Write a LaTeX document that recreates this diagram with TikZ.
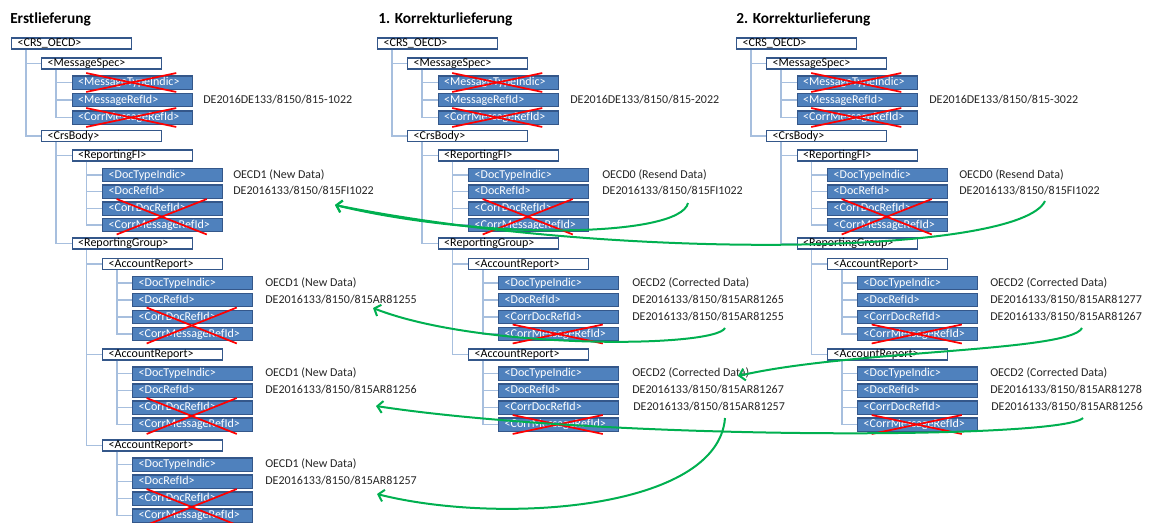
\documentclass[tikz,border=0pt]{standalone}
\usepackage{fontspec}
\setmainfont{Carlito}
\usetikzlibrary{arrows.meta}

\definecolor{boxline}{HTML}{34578A}
\definecolor{boxfill}{HTML}{4F81BD}
\definecolor{treeline}{HTML}{A7BFDE}
\definecolor{corrgreen}{HTML}{00B050}
\definecolor{labeltext}{HTML}{262626}

\tikzset{
  elem/.style={anchor=west, draw=boxline, line width=1.1pt, minimum width=90pt,
    text width=81pt, inner xsep=4.5pt, text height=6.3pt, text depth=1.8pt, align=left,
    font=\fontsize{9pt}{10pt}\selectfont},
  wbox/.style={elem, fill=white, text=black, inner ysep=0.2pt},
  bbox/.style={elem, fill=boxfill, text=white, inner ysep=1.0pt},
  lbl/.style={anchor=west, inner sep=0pt, text=labeltext, text height=6.3pt, text depth=1.8pt,
    font=\fontsize{9pt}{10pt}\selectfont},
  heading/.style={anchor=west, inner sep=0pt, text=black, font=\bfseries\fontsize{11.5pt}{13pt}\selectfont},
  tree/.style={draw=treeline, line width=0.8pt},
  cross/.style={draw=red, line width=1.3pt},
  corr/.style={draw=corrgreen, line width=1.5pt, -{Straight Barb[length=4pt,width=9pt]}},
}

% red X over one box or over a stack of boxes from #1 (top) to #2 (bottom)
\newcommand{\xout}[2]{%
  \draw[cross] ([shift={(11pt,1.5pt)}]#1.north west) -- ([shift={(-12.5pt,-1.5pt)}]#2.south east);
  \draw[cross] ([shift={(11pt,-1.5pt)}]#2.south west) -- ([shift={(-12.5pt,1.5pt)}]#1.north east);
}

% child link from a parent box to a child box
\newcommand{\link}[2]{\draw[tree] ([xshift=11.25pt]#1.south west) |- (#2.west);}

% upper part of one CRS message: header, MessageSpec, ReportingFI, ReportingGroup
\newcommand{\xmlhead}[2]{%
  \node[wbox] (#1root) at (#2,43.5) {<CRS\_OECD>};
  \node[wbox] (#1ms) at ({#2+30},63.5) {<MessageSpec>};
  \node[bbox] (#1mti) at ({#2+60.5},82.5) {<MessageTypeIndic>};
  \node[bbox] (#1mri) at ({#2+60.5},100) {<MessageRefId>};
  \node[bbox] (#1cmri) at ({#2+60.5},117.5) {<CorrMessageRefId>};
  \node[wbox] (#1body) at ({#2+30},136) {<CrsBody>};
  \node[wbox] (#1fi) at ({#2+60.5},155.5) {<ReportingFI>};
  \node[bbox] (#1fidt) at ({#2+91},175) {<DocTypeIndic>};
  \node[bbox] (#1fidr) at ({#2+91},191.5) {<DocRefId>};
  \node[bbox] (#1ficd) at ({#2+91},208.5) {<CorrDocRefId>};
  \node[bbox] (#1ficm) at ({#2+91},225) {<CorrMessageRefId>};
  \node[wbox] (#1rg) at ({#2+60.5},243.5) {<ReportingGroup>};
  \link{#1root}{#1ms}\link{#1root}{#1body}
  \link{#1ms}{#1mti}\link{#1ms}{#1mri}\link{#1ms}{#1cmri}
  \link{#1body}{#1fi}\link{#1body}{#1rg}
  \link{#1fi}{#1fidt}\link{#1fi}{#1fidr}\link{#1fi}{#1ficd}\link{#1fi}{#1ficm}
  \xout{#1mti}{#1mti}
  \xout{#1cmri}{#1cmri}
  \xout{#1ficd}{#1ficm}
}

% one AccountReport with its DocSpec elements
\newcommand{\acct}[4]{%
  \node[wbox] (#1) at ({#2+91},#3) {<AccountReport>};
  \node[bbox] (#1dt) at ({#2+121},{#3+19}) {<DocTypeIndic>};
  \node[bbox] (#1dr) at ({#2+121},{#3+36}) {<DocRefId>};
  \node[bbox] (#1cd) at ({#2+121},{#3+53}) {<CorrDocRefId>};
  \node[bbox] (#1cm) at ({#2+121},{#3+70}) {<CorrMessageRefId>};
  \link{#4}{#1}
  \link{#1}{#1dt}\link{#1}{#1dr}\link{#1}{#1cd}\link{#1}{#1cm}
}

\begin{document}
\begin{tikzpicture}[x=0.75pt,y=-0.75pt]
\useasboundingbox[fill=white] (0,0) rectangle (1149,522);

% ---------------- Erstlieferung ----------------
\node[heading] (ttlA) at (10,19) {Erstlieferung};
\xmlhead{a}{11}
\acct{aar1}{11}{264}{arg}
\acct{aar2}{11}{354.5}{arg}
\acct{aar3}{11}{445.5}{arg}
\xout{aar1cd}{aar1cm}
\xout{aar2cd}{aar2cm}
\xout{aar3cd}{aar3cm}
\node[lbl] (aMsgId) at (203,100) {DE2016DE133/8150/815-1022};
\node[lbl] (aFIType) at (233,175) {OECD1 (New Data)};
\node[lbl] (aFIRef) at (233,191.5) {DE2016133/8150/815FI1022};
\node[lbl] (aR1Type) at (265,283) {OECD1 (New Data)};
\node[lbl] (aR1Ref) at (265,300) {DE2016133/8150/815AR81255};
\node[lbl] (aR2Type) at (265,373.5) {OECD1 (New Data)};
\node[lbl] (aR2Ref) at (265,390.5) {DE2016133/8150/815AR81256};
\node[lbl] (aR3Type) at (265,464.5) {OECD1 (New Data)};
\node[lbl] (aR3Ref) at (265,481.5) {DE2016133/8150/815AR81257};

% ---------------- 1. Korrekturlieferung ----------------
\node[heading] (ttlB) at (378,19) {1. Korrekturlieferung};
\xmlhead{b}{377}
\acct{bar1}{377}{264}{brg}
\acct{bar2}{377}{354.5}{brg}
\xout{bar1cm}{bar1cm}
\xout{bar2cm}{bar2cm}
\node[lbl] (bMsgId) at (570,100) {DE2016DE133/8150/815-2022};
\node[lbl] (bFIType) at (602,175) {OECD0 (Resend Data)};
\node[lbl] (bFIRef) at (602,191.5) {DE2016133/8150/815FI1022};
\node[lbl] (bR1Type) at (632,283) {OECD2 (Corrected Data)};
\node[lbl] (bR1Ref) at (632,300) {DE2016133/8150/815AR81265};
\node[lbl] (bR1Corr) at (632,317) {DE2016133/8150/815AR81255};
\node[lbl] (bR2Type) at (632,373.5) {OECD2 (Corrected Data)};
\node[lbl] (bR2Ref) at (632,390.5) {DE2016133/8150/815AR81267};
\node[lbl] (bR2Corr) at (633,407.5) {DE2016133/8150/815AR81257};

% ---------------- 2. Korrekturlieferung ----------------
\node[heading] (ttlC) at (736,19) {2. Korrekturlieferung};
\xmlhead{c}{736}
\acct{car1}{736}{264}{crg}
\acct{car2}{736}{354.5}{crg}
\xout{car1cm}{car1cm}
\xout{car2cm}{car2cm}
\node[lbl] (cMsgId) at (929,100) {DE2016DE133/8150/815-3022};
\node[lbl] (cFIType) at (959,175) {OECD0 (Resend Data)};
\node[lbl] (cFIRef) at (959,191.5) {DE2016133/8150/815FI1022};
\node[lbl] (cR1Type) at (990,283) {OECD2 (Corrected Data)};
\node[lbl] (cR1Ref) at (990,300) {DE2016133/8150/815AR81277};
\node[lbl] (cR1Corr) at (990,317) {DE2016133/8150/815AR81267};
\node[lbl] (cR2Type) at (990,373.5) {OECD2 (Corrected Data)};
\node[lbl] (cR2Ref) at (990,390.5) {DE2016133/8150/815AR81278};
\node[lbl] (cR2Corr) at (991,407.5) {DE2016133/8150/815AR81256};

% ---------------- references back to earlier records ----------------
\coordinate (bFIFrom) at (688,203);
\coordinate (cFIFrom) at (1045,201);
\coordinate (aFITo) at (335,205);
\coordinate (bR1From) at (725,328);
\coordinate (aR1To) at (373,308);
\coordinate (bR2From) at (725,418);
\coordinate (aR3To) at (377,494);
\coordinate (cR2From) at (1083,418);
\coordinate (aR2To) at (376,406);
\coordinate (cR1From) at (1082,328);
\coordinate (bR2To) at (738,376);

\draw[corr] (bFIFrom) .. controls (680,238) and (480,240) .. (aFITo);
\draw[corr] (cFIFrom) .. controls (1020,255) and (620,262) .. (aFITo);
\draw[corr] (bR1From) .. controls (715,348) and (480,350) .. (aR1To);
\draw[corr] (bR2From) .. controls (718,510) and (500,525) .. (aR3To);
\draw[corr] (cR2From) .. controls (1060,440) and (600,440) .. (aR2To);
\draw[corr] (cR1From) .. controls (1070,352) and (850,350) .. (bR2To);
\end{tikzpicture}
\end{document}
